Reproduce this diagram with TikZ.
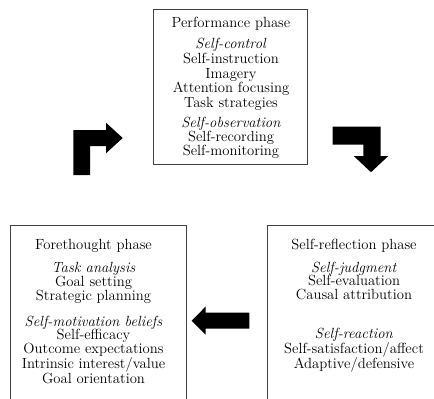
\documentclass[tikz,border=0pt]{standalone}

\tikzset{
	phase/.style={draw=black!75, line width=0.9pt, inner sep=0pt},
	phasetext/.style={align=center, inner sep=0pt, anchor=north, font=\fontsize{14.7}{13.6}\selectfont},
	blockarrow/.style={fill=black, draw=none},
}

\begin{document}
\begin{tikzpicture}[x=1pt, y=-1pt]
	\useasboundingbox (0, 0) rectangle (434, 399);
	\clip (0, 0) rectangle (434, 399);
	\node[phase, minimum width=154pt, minimum height=155pt] (perf) at (230.3, 86.5){};
	\node[phase, minimum width=176pt, minimum height=195pt] (fore) at (98, 322.5){};
	\node[phase, minimum width=178pt, minimum height=195pt] (refl) at (356, 322.5){};
	\node[phasetext] (perftext) at (231, 16.7){Performance phase\\[7.4pt]
		\textit{Self-control}\\[2pt] Self-instruction\\[0.8pt] Imagery\\[1pt] Attention focusing\\[0.8pt] Task strategies\\[7pt]
		\textit{Self-observation}\\ Self-recording\\ Self-monitoring};
	\node[phasetext] (foretext) at (93.5, 239.2){Forethought phase\\[9.7pt]
		\textit{Task analysis}\\ Goal setting\\ Strategic planning\\[12.6pt]
		\textit{Self-motivation beliefs}\\ Self-efficacy\\ Outcome expectations\\ Intrinsic interest/value\\ Goal orientation};
	\node[phasetext] (refltext) at (354, 239.2){Self-reflection phase\\[8.7pt]
		\textit{Self-judgment}\\ Self-evaluation\\ Causal attribution\\[25.2pt]
		\textit{Self-reaction}\\ Self-satisfaction/affect\\ Adaptive/defensive};
	\coordinate (upturn) at (73.3, 175);
	\coordinate (downturn) at (332.5, 126.5);
	\coordinate (backtip) at (191.7, 320.7);
	\fill[blockarrow] (upturn) -- ++(0, -45) -- ++(32.7, 0) -- ++(0, -7.3) -- ++(16.7, 15.3) -- ++(-16.7, 15.3) -- ++(0, -7.3) -- ++(-16, 0) -- ++(0, 29) -- cycle;
	\fill[blockarrow] (downturn) -- ++(48.2, 0) -- ++(0, 29.5) -- ++(7.6, 0) -- ++(-17.3, 16.2) -- ++(-17.3, -16.2) -- ++(9.6, 0) -- ++(0, -11.5) -- ++(-30.8, 0) -- cycle;
	\fill[blockarrow] (backtip) -- ++(13.8, -14) -- ++(0, 6) -- ++(43.8, 0) -- ++(0, 16) -- ++(-43.8, 0) -- ++(0, 6) -- cycle;
\end{tikzpicture}
\end{document}
